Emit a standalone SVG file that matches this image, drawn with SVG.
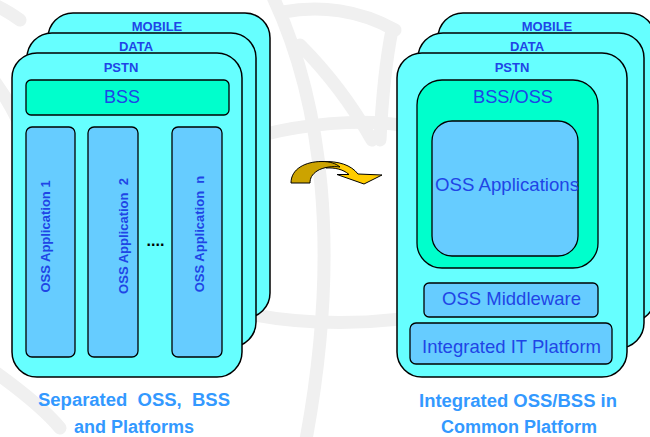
<svg xmlns="http://www.w3.org/2000/svg" width="650" height="437" viewBox="0 0 650 437">
<style>
.wm{fill:none;stroke:#f0f0f0;stroke-width:13;stroke-linecap:round}
.card{fill:#66ffff;stroke:#000;stroke-width:1.5}
.bss{fill:#00ffcc;stroke:#000;stroke-width:1.3}
.app{fill:#66ccff;stroke:#000;stroke-width:1.3}
.lbl{font-family:"Liberation Sans",Arial,sans-serif;font-weight:bold;font-size:13px;fill:#1f45e6;text-anchor:middle}
.big{font-family:"Liberation Sans",Arial,sans-serif;font-size:19px;fill:#1f45e6;text-anchor:middle}
.vt{font-family:"Liberation Sans",Arial,sans-serif;font-weight:bold;font-size:13px;fill:#1f45e6;text-anchor:middle}
.cap{font-family:"Liberation Sans",Arial,sans-serif;font-weight:bold;font-size:18px;fill:#3399ff;text-anchor:middle}
</style>
<rect width="650" height="437" fill="#fff"/>
<g id="watermark">
<path class="wm" d="M272,-5 C322,100 342,250 305,445"/>
<path class="wm" d="M300,45 C330,75 352,105 372,140"/>
<path class="wm" d="M283,12 C320,5 360,10 395,30"/>
<path class="wm" d="M262,135 C300,125 360,118 400,125"/>
<path class="wm" d="M240,312 C300,326 380,326 440,312"/>
<path class="wm" d="M-5,82 C8,100 18,118 26,140"/>
<path class="wm" d="M-5,372 C20,390 45,410 60,428"/>
<path class="wm" d="M392,30 C386,60 382,100 380,140"/>
<path class="wm" d="M-5,5 C5,10 12,14 20,20"/>
</g>
<g id="left-mobile"><rect class="card" x="48" y="13" width="222" height="305" rx="25"/><text class="lbl" x="157" y="31">MOBILE</text></g>
<g id="left-data"><rect class="card" x="27" y="33" width="229" height="314" rx="25"/><text class="lbl" x="136" y="51">DATA</text></g>
<g id="left-pstn"><rect class="card" x="12" y="53" width="230" height="324" rx="25"/><text class="lbl" x="121" y="72">PSTN</text></g>
<g id="left-bss"><rect class="bss" x="26" y="80" width="203" height="35" rx="5"/><text class="big" x="122" y="103" textLength="36" lengthAdjust="spacingAndGlyphs">BSS</text></g>
<g id="app1"><rect class="app" x="26" y="127" width="49" height="230" rx="6"/><text class="vt" transform="translate(50,236.5) rotate(-90)">OSS Application 1</text></g>
<g id="app2"><rect class="app" x="88" y="127" width="50" height="230" rx="6"/><text class="vt" transform="translate(127.5,236) rotate(-90)" xml:space="preserve">OSS Application  2</text></g>
<g id="appn"><rect class="app" x="172" y="127" width="50" height="230" rx="6"/><text class="vt" transform="translate(203.5,234) rotate(-90)" xml:space="preserve">OSS Application  n</text></g>
<g id="dots"><text x="155.5" y="246" font-family="Liberation Sans,Arial,sans-serif" font-weight="bold" font-size="16" text-anchor="middle" fill="#000">....</text></g>
<g id="arrow">
<path d="M322,161.5 C339,161 351,165 358,174 L382,175 L364,184 L337,174.5 L349,174.5 C343,169 334,167.5 326,168 Z" fill="#ffcc00" stroke="#000" stroke-width="1"/>
<path d="M291,183 C291,169 305,161.5 322,161.5 C330,161.5 336,163.5 340,167 C333,166 323,167 317,171 C312,174.5 310,178 310,183 Z" fill="#cca300" stroke="#000" stroke-width="1"/>
</g>
<g id="right-mobile"><rect class="card" x="438" y="13" width="217" height="309" rx="25"/><text class="lbl" x="547" y="31">MOBILE</text></g>
<g id="right-data"><rect class="card" x="418" y="33" width="226" height="315" rx="25"/><text class="lbl" x="527" y="51">DATA</text></g>
<g id="right-pstn"><rect class="card" x="397" y="53" width="230" height="324" rx="25"/><text class="lbl" x="512" y="72">PSTN</text></g>
<g id="bssoss"><rect class="bss" x="417" y="80" width="181" height="188" rx="25"/><text class="big" x="513" y="103" textLength="80" lengthAdjust="spacingAndGlyphs">BSS/OSS</text></g>
<g id="ossapps"><rect class="app" x="432" y="121" width="146" height="135" rx="20"/><text class="big" x="507" y="191" textLength="144" lengthAdjust="spacingAndGlyphs">OSS Applications</text></g>
<g id="middleware"><rect class="app" x="424" y="283" width="174" height="34" rx="5"/><text class="big" x="511.5" y="305" textLength="139" lengthAdjust="spacingAndGlyphs">OSS Middleware</text></g>
<g id="itplatform"><rect class="app" x="410" y="323" width="202" height="41" rx="6"/><text class="big" x="511.5" y="353" textLength="179" lengthAdjust="spacingAndGlyphs">Integrated IT Platform</text></g>
<g id="captions">
<text class="cap" x="134" y="406" xml:space="preserve" textLength="192" lengthAdjust="spacingAndGlyphs">Separated  OSS,  BSS</text>
<text class="cap" x="134" y="433">and Platforms</text>
<text class="cap" x="518" y="407" textLength="198" lengthAdjust="spacingAndGlyphs">Integrated OSS/BSS in</text>
<text class="cap" x="519" y="433">Common Platform</text>
</g>
<g id="connectors"></g>
</svg>
